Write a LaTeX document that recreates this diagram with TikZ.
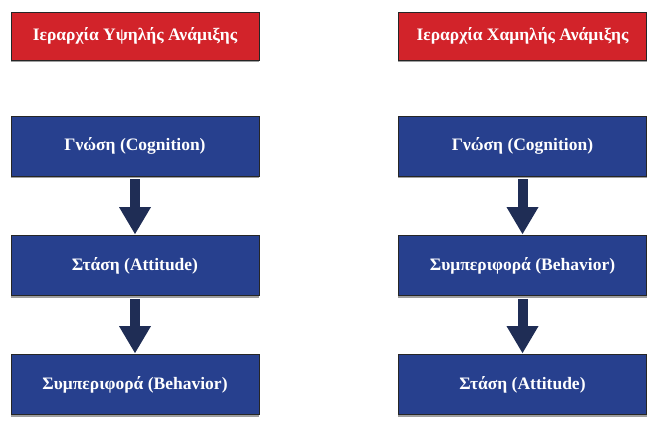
\documentclass[tikz,border=0pt]{standalone}
\usepackage{fontspec}
\setmainfont{Liberation Serif}
\usetikzlibrary{arrows.meta}
\definecolor{hdrred}{HTML}{D2232A}
\definecolor{boxblue}{HTML}{27408E}
\definecolor{arrnavy}{HTML}{1F2D55}
\tikzset{
  base/.style={minimum width=248pt, inner sep=0pt, text=white, font=\bfseries\fontsize{17.5}{20}\selectfont,
    draw=black!85, line width=0.8pt,
    append after command={
      (\tikzlastnode.south west) edge[draw=gray!75, line width=1.4pt, shorten <=0pt,
        transform canvas={yshift=-1.1pt}] (\tikzlastnode.south east)}},
  hdr/.style={base, fill=hdrred, minimum height=48pt},
  blk/.style={base, fill=boxblue, minimum height=60pt},
  bigarrow/.style={draw=arrnavy, line width=10pt, shorten <=3pt, shorten >=1pt,
    -{Triangle[length=27pt, width=32pt, line width=0pt]}}
}
\begin{document}
\begin{tikzpicture}[x=1pt, y=-1pt]
\useasboundingbox (0,0) rectangle (668,446);
\node[hdr] (hl) at (135,36) {Ιεραρχία Υψηλής Ανάμιξης};
\node[hdr] (hr) at (522.5,36) {Ιεραρχία Χαμηλής Ανάμιξης};
\node[blk] (l1) at (135,146) {Γνώση (Cognition)};
\node[blk] (l2) at (135,265.5) {Στάση (Attitude)};
\node[blk] (l3) at (135,384.5) {Συμπεριφορά (Behavior)};
\node[blk] (r1) at (522.5,146) {Γνώση (Cognition)};
\node[blk] (r2) at (522.5,265.5) {Συμπεριφορά (Behavior)};
\node[blk] (r3) at (522.5,384.5) {Στάση (Attitude)};
\draw[bigarrow] (l1) -- (l2);
\draw[bigarrow] (l2) -- (l3);
\draw[bigarrow] (r1) -- (r2);
\draw[bigarrow] (r2) -- (r3);
\end{tikzpicture}
\end{document}
